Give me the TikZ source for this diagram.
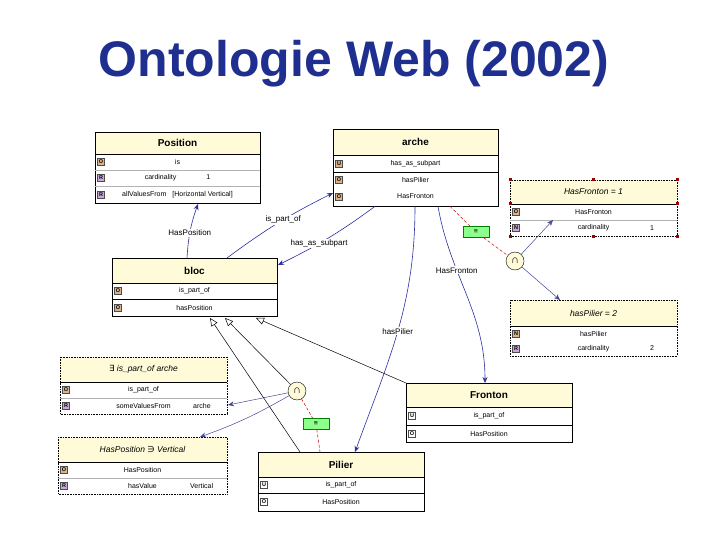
\documentclass[tikz,border=0pt]{standalone}
\usepackage{fontspec}
\setmainfont{Liberation Sans}
\newfontfamily\djv{DejaVu Sans}
\usetikzlibrary{arrows.meta}
\definecolor{hdr}{HTML}{FFFBD8}
\definecolor{ttl}{HTML}{1F2F8F}
\definecolor{lnk}{HTML}{2B2FA0}
\definecolor{bO}{HTML}{D9B48A}
\definecolor{bR}{HTML}{C8A8D8}
\tikzset{
  boxline/.style={draw=black, line width=0.6pt},
  dotbox/.style={draw=black, line width=0.6pt, densely dotted},
  rowtxt/.style={font=\fontsize{7}{8}\selectfont, inner sep=0pt},
  hdrtxt/.style={font=\bfseries\fontsize{10}{11}\selectfont, inner sep=0pt},
  itxt/.style={font=\itshape\fontsize{8.5}{9}\selectfont, inner sep=0pt},
  rel/.style={draw=lnk, line width=0.6pt, -{Stealth[length=6pt,width=5pt]}},
  rarr/.style={draw=lnk!70!gray, line width=0.5pt, -{Stealth[length=6pt,width=5pt]}},
  gen/.style={draw=black, line width=0.5pt, -{Triangle[open,length=8pt,width=7pt]}},
  eqline/.style={draw=red!80!black, line width=0.5pt, densely dashed},
  lbl/.style={font=\fontsize{8}{9}\selectfont, fill=white, inner sep=1pt},
  inter/.style={circle, draw=black, fill=hdr, minimum size=18pt, inner sep=0pt, font=\bfseries\fontsize{11}{11}\selectfont},
  eqbox/.style={draw=green!50!black, fill=green!45!white, minimum width=26pt, minimum height=11pt, inner sep=0pt, font=\fontsize{7}{7}\selectfont},
  badge/.style={draw=black!70, line width=0.3pt, minimum size=7pt, inner sep=0pt, font=\bfseries\fontsize{5.5}{5.5}\selectfont},
  handle/.style={fill=red!60!black, minimum size=3pt, inner sep=0pt}
}
\newcommand\umlcls[9]{%
  \fill[hdr] (#2,#3) rectangle ++(#4,#6);
  \draw[#8] (#2,#3) rectangle ++(#4,#5);
  \draw[black, line width=0.6pt] (#2,#3+#6) -- ++(#4,0);
  \node[#9] at (#2+#4/2,#3+#6/2) {#7};
  \node[minimum width=#4pt, minimum height=#5pt, anchor=north west, inner sep=0pt] (#1) at (#2,#3) {};
}
\newcommand\umlrow[8]{%
  \node[badge, fill=#6] at (#1+6,#2+#4/2) {#5};
  \node[rowtxt] at (#1+#3/2,#2+#4/2) {#7};
  \node[rowtxt] at (#1+#3*0.85,#2+#4/2) {#8};
}
\begin{document}
\begin{tikzpicture}[x=1pt,y=-1pt]
\useasboundingbox (0,0) rectangle (720,540);
\node[font=\bfseries\fontsize{50}{55}\selectfont, text=ttl] (title) at (354,64) {Ontologie Web (2002)};

\umlcls{position}{95}{132}{165}{71}{22}{Position}{boxline}{hdrtxt}
\umlrow{95}{154}{165}{16}{O}{bO}{is}{}
\draw[black!30] (95,170) -- (260,170);
\umlrow{95}{170}{165}{16}{R}{bR}{cardinality\hspace{30pt}1}{}
\draw[black!30] (95,186) -- (260,186);
\umlrow{95}{186}{165}{17}{R}{bR}{allValuesFrom\hspace{6pt}[Horizontal Vertical]}{}

\umlcls{arche}{333}{129}{165}{77}{26}{arche}{boxline}{hdrtxt}
\umlrow{333}{155}{165}{17}{U}{bO}{has\_as\_subpart}{}
\draw[black] (333,172) -- (498,172);
\umlrow{333}{172}{165}{16}{O}{bO}{hasPilier}{}
\umlrow{333}{188}{165}{17}{O}{bO}{HasFronton}{}

\umlcls{hf}{510}{180}{167}{56}{24}{HasFronton = 1}{dotbox}{itxt}
\umlrow{510}{204}{167}{16}{O}{bO}{HasFronton}{}
\draw[black!30] (510,220) -- (677,220);
\umlrow{510}{220}{167}{16}{N}{bR}{cardinality}{1}
\foreach \p in {(510,180),(593,180),(677,180),(510,204),(677,204),(510,236),(593,236),(677,236)} \node[handle] at \p {};

\umlcls{bloc}{112}{258}{165}{58}{25}{bloc}{boxline}{hdrtxt}
\umlrow{112}{283}{165}{16}{O}{bO}{is\_part\_of}{}
\draw[black] (112,299) -- (277,299);
\umlrow{112}{299}{165}{17}{O}{bO}{hasPosition}{}

\umlcls{hp}{510}{300}{167}{56}{26}{hasPilier = 2}{dotbox}{itxt}
\umlrow{510}{326}{167}{15}{N}{bO}{hasPilier}{}
\umlrow{510}{341}{167}{15}{R}{bR}{cardinality}{2}

\umlcls{ex}{60}{357}{167}{57}{25}{{\djv\itshape ∃} is\_part\_of arche}{dotbox}{itxt}
\umlrow{60}{382}{167}{16}{O}{bO}{is\_part\_of}{}
\draw[black!30] (60,398) -- (227,398);
\umlrow{60}{398}{167}{16}{R}{bR}{someValuesFrom}{arche}

\umlcls{hv}{58}{437}{169}{57}{25}{HasPosition {\djv\itshape ∋} Vertical}{dotbox}{itxt}
\umlrow{58}{462}{169}{16}{O}{bO}{HasPosition}{}
\draw[black!30] (58,478) -- (227,478);
\umlrow{58}{478}{169}{16}{R}{bR}{hasValue}{Vertical}

\umlcls{fronton}{406}{383}{166}{59}{24}{Fronton}{boxline}{hdrtxt}
\umlrow{406}{407}{166}{18}{U}{white}{is\_part\_of}{}
\draw[black] (406,425) -- (572,425);
\umlrow{406}{425}{166}{17}{O}{white}{HasPosition}{}

\umlcls{pilier}{258}{452}{166}{59}{25}{Pilier}{boxline}{hdrtxt}
\umlrow{258}{477}{166}{16}{U}{white}{is\_part\_of}{}
\draw[black] (258,493) -- (424,493);
\umlrow{258}{493}{166}{18}{O}{white}{HasPosition}{}

\node[inter] (i1) at (515,261) {∩};
\node[inter] (i2) at (297,391) {∩};
\node[eqbox] (e1) at (476,232) {≡};
\node[eqbox] (e2) at (316,424) {≡};

\draw[rel] (bloc.north west) ++(75,0) coordinate (b1) to[bend left=8] node[lbl,pos=0.45]{HasPosition} (198,204);
\draw[rel] (bloc.north west) ++(115,0) to[bend left=5] node[lbl,pos=0.55]{is\_part\_of} (333,193);
\draw[rel] (arche.south west) ++(42,0) to[bend left=5] node[lbl,pos=0.6]{has\_as\_subpart} (278,265);
\draw[rel] (arche.south west) ++(82,0) to[out=-90,in=70] node[lbl,pos=0.5]{hasPilier} (355,452);
\draw[rel] (arche.south west) ++(105,0) to[out=-80,in=90] node[lbl,pos=0.35]{HasFronton} (485,383);

\draw[eqline] (arche.south west) ++(117,0) -- (e1) -- (i1);
\draw[rarr] (i1) -- (553,220);
\draw[rarr] (i1) -- (560,300);
\draw[rarr] (i2) -- (228,405);
\draw[rarr] (i2) to[bend left=5] (200,437);
\draw[eqline] (i2) -- (e2) -- (320,452);

\draw[gen] (fronton.north west) -- (256,318);
\draw[gen] (i2) -- (225,318);
\draw[gen] (pilier.north west) ++(42,0) -- (210,318);
\end{tikzpicture}
\end{document}
